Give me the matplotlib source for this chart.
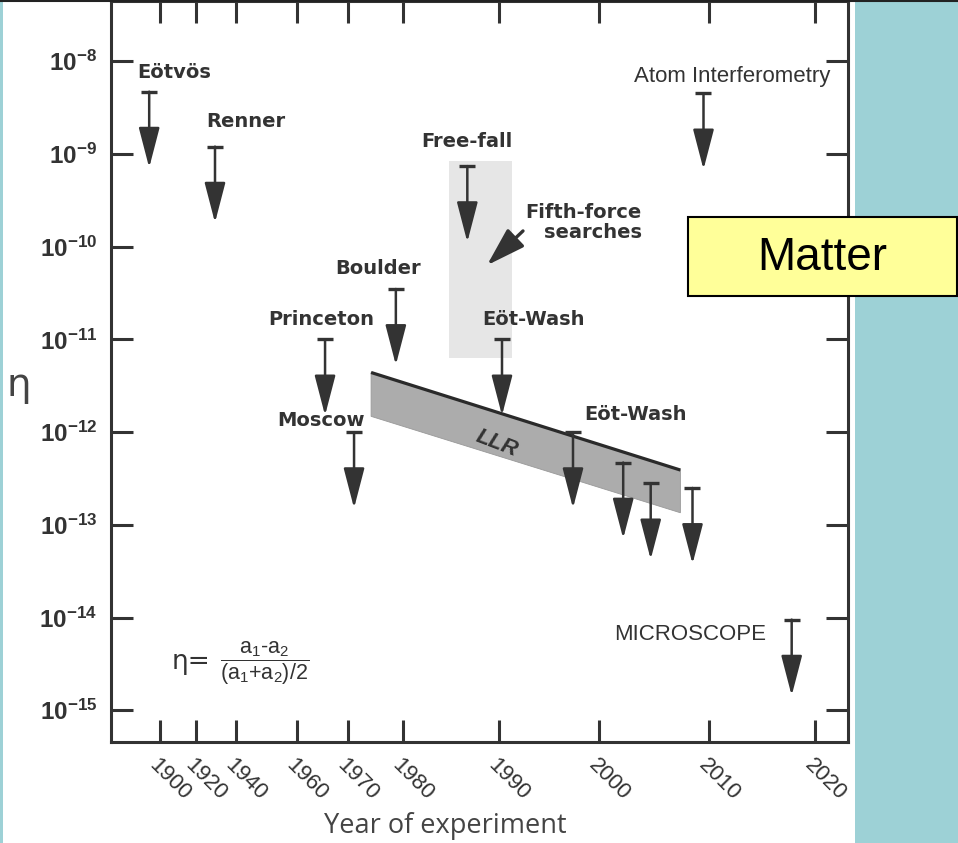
import numpy as np
import matplotlib
matplotlib.use('Agg')
import matplotlib.pyplot as plt
from matplotlib.patches import Polygon, Rectangle
from matplotlib.lines import Line2D
from matplotlib.ticker import NullLocator

plt.rcParams['font.family'] = ['Liberation Sans', 'DejaVu Sans']
plt.rcParams['mathtext.fontset'] = 'custom'
plt.rcParams['mathtext.rm'] = 'Liberation Sans'
plt.rcParams['mathtext.it'] = 'Liberation Sans:italic'
plt.rcParams['mathtext.bf'] = 'Liberation Sans:bold'

# ---- data ----
tick_years = [1900, 1920, 1940, 1960, 1970, 1980, 1990, 2000, 2010, 2020]
eta_ticks = [1e-8, 1e-9, 1e-10, 1e-11, 1e-12, 1e-13, 1e-14, 1e-15]

exp_years = [1894, 1929.5, 1965.5, 1971.1, 1978.7, 1986.7, 1990.3,
             1997.4, 2002.2, 2004.7, 2008.5, 2009.5, 2017.8]
exp_limits = [4.7e-9, 1.2e-9, 1e-11, 1e-12, 3.5e-11, 7.4e-10, 1e-11,
              1e-12, 4.7e-13, 2.8e-13, 2.5e-13, 4.5e-9, 9.5e-15]

llr_years = [1974.2, 2007.4]
llr_upper = [4.4e-12, 3.9e-13]
llr_lower = [1.48e-12, 1.35e-13]

fifth_years = [1984.8, 1991.3]
fifth_eta = [6.3e-12, 8.5e-10]

bold_labels = ['Eötvös', 'Renner', 'Free-fall', 'Boulder', 'Princeton',
               'Eöt-Wash', 'Moscow', 'Eöt-Wash']
bold_label_years = [1907.8, 1943.1, 1986.7, 1975.5, 1964.7, 1993.5, 1964.7, 2003.3]
bold_label_eta = [7.6e-9, 2.24e-9, 1.35e-9, 5.75e-11, 1.62e-11, 1.62e-11, 1.35e-12, 1.55e-12]

plain_labels = ['Atom Interferometry', 'MICROSCOPE']
plain_label_years = [2012.2, 2008.3]
plain_label_eta = [6.8e-9, 6.6e-15]

# the year axis in the original is stretched unevenly
scale_years = [1872.8] + tick_years + [2023.1]
scale_u = [111, 160, 196, 236, 297, 348, 403, 499, 599, 709, 815, 848]


def fwd(y):
    return np.interp(y, scale_years, scale_u)


def inv(u):
    return np.interp(u, scale_u, scale_years)


ink = '#333333'
teal = '#9dd1d6'
arrow_drop = 10 ** 0.82

fig = plt.figure(figsize=(9.58, 8.43), dpi=100)
fig.patches.append(Rectangle((855 / 958, 0), 103 / 958, 1, transform=fig.transFigure,
                             facecolor=teal, edgecolor='none', zorder=-1))
fig.patches.append(Rectangle((0, 0), 3 / 958, 1, transform=fig.transFigure,
                             facecolor=teal, edgecolor='none', zorder=-1))
fig.lines.append(Line2D([0, 1], [1 - 1 / 843] * 2, transform=fig.transFigure,
                        color='#222222', lw=1.5))

ax = fig.add_axes([111 / 958, 1 - 742 / 843, 737 / 958, 741 / 843])
ax.set_xscale('function', functions=(fwd, inv))
ax.set_yscale('log')
ax.set_xlim(scale_years[0], scale_years[-1])
ax.set_ylim(10 ** -15.342, 10 ** -7.35)

# fifth-force shaded region
ax.fill_between(fifth_years, fifth_eta[0], fifth_eta[1], color='#e6e6e6', lw=0, zorder=1)

# LLR band
band = Polygon([(llr_years[0], llr_upper[0]), (llr_years[1], llr_upper[1]),
                (llr_years[1], llr_lower[1]), (llr_years[0], llr_lower[0])],
               closed=True, facecolor='#acacac', edgecolor='#999999', lw=0.6, zorder=2)
ax.add_patch(band)
ax.plot(llr_years, llr_upper, color='#2a2a2a', lw=2.3, zorder=3, solid_capstyle='butt')
ax.text(1989.8, 10 ** -12.12, 'LLR', fontsize=16, style='italic', fontweight='bold',
        color=ink, rotation=-21, ha='center', va='center', zorder=4)

# upper-limit arrows
for yr, lim in zip(exp_years, exp_limits):
    ax.plot([yr], [lim], marker='_', ms=12, mew=2.4, color=ink, zorder=5)
    ax.annotate('', xy=(yr, lim / arrow_drop), xytext=(yr, lim),
                arrowprops=dict(arrowstyle='-|>,head_length=2.5,head_width=0.65',
                                mutation_scale=10, lw=1.8, color=ink,
                                shrinkA=0, shrinkB=0), zorder=5)

# labels
for txt, yr, e in zip(bold_labels, bold_label_years, bold_label_eta):
    ax.text(yr, e, txt, fontsize=14, fontweight='bold', color=ink, family='DejaVu Sans',
            ha='center', va='center', zorder=6)
for txt, yr, e in zip(plain_labels, plain_label_years, plain_label_eta):
    ax.text(yr, e, txt, fontsize=16, color=ink, ha='center', va='center', zorder=6)

ax.text(2003.9, 10 ** -9.74, 'Fifth-force\nsearches', fontsize=14, fontweight='bold',
        family='DejaVu Sans', color=ink, ha='right', va='center',
        multialignment='right', linespacing=1.05, zorder=6)
ax.annotate('', xy=(1988.75, 10 ** -10.2), xytext=(1992.4, 10 ** -9.83),
            arrowprops=dict(arrowstyle='-|>,head_length=2.4,head_width=0.75',
                            mutation_scale=10, lw=2.4, color=ink,
                            shrinkA=0, shrinkB=0), zorder=6)

# definition of eta
ax.text(1906.7, 10 ** -14.48, 'η=', fontsize=19, color=ink, family='DejaVu Sans',
        ha='left', va='center', zorder=6)
ax.text(1932.0, 10 ** -14.49,
        r'$\dfrac{\mathrm{a}_1\mathrm{\text{-}a}_2}{(\mathrm{a}_1\mathrm{+a}_2)/2}$',
        fontsize=15.5, color=ink, ha='left', va='center', zorder=6)

# axes styling
for side in ['left', 'right', 'bottom', 'top']:
    ax.spines[side].set_linewidth(2.2)
    ax.spines[side].set_color(ink)

ax.set_xticks(tick_years)
ax.set_xticklabels([str(y) for y in tick_years], rotation=-45, ha='left', va='top',
                   rotation_mode='anchor', fontsize=16, color=ink)
ax.set_yticks(eta_ticks)
ax.set_yticklabels([r'$\mathbf{10^{%d}}$' % round(np.log10(v)) for v in eta_ticks],
                   fontsize=17.5, color=ink)
ax.yaxis.set_minor_locator(NullLocator())
ax.xaxis.set_minor_locator(NullLocator())
ax.tick_params(axis='both', direction='in', length=16, width=2.2, color=ink)
ax.tick_params(axis='x', top=True, pad=9)
ax.tick_params(axis='y', right=True, pad=10)

ax.set_ylabel('η', rotation=0, fontsize=28, color='#444444', family='DejaVu Sans',
              va='center', ha='center')
ax.yaxis.set_label_coords(-0.125, 0.482)
ax.set_xlabel('Year of experiment', fontsize=19.5, color='#444444', family='Open Sans',
              va='center')
ax.xaxis.set_label_coords(0.453, -0.113)

# "Matter" tag
fig.patches.append(Rectangle((688 / 958, 1 - 296 / 843), 269 / 958, 79 / 843,
                             transform=fig.transFigure, facecolor='#ffff99',
                             edgecolor='black', lw=1.5, zorder=5))
fig.text(822 / 958, 1 - 258 / 843, 'Matter', fontsize=33, color='black',
         ha='center', va='center', zorder=6)

fig.savefig('out.png', dpi=100)
